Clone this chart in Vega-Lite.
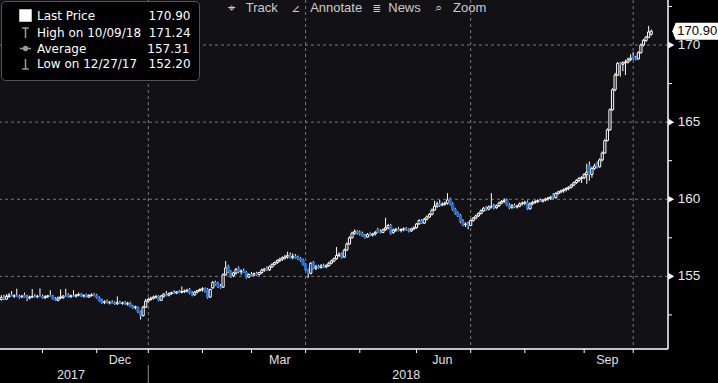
{
"$schema": "https://vega.github.io/schema/vega-lite/v6.json",
"width": 668, "height": 349,
"autosize": {"type": "none"},
"padding": {"left": 0, "top": 0, "right": 50, "bottom": 34},
"background": "#000000",
"view": {"fill": "#111116", "stroke": null},
"title": {"text": "\u2316\u00a0\u00a0\u00a0Track\u00a0\u00a0\u00a0\u00a0\u2220\u00a0\u00a0\u00a0Annotate\u00a0\u00a0\u00a0\u2263\u00a0\u00a0News\u00a0\u00a0\u00a0\u00a0\u2315\u00a0\u00a0\u00a0Zoom", "anchor": "start", "frame": "group", "orient": "top", "offset": -16, "dx": 228, "baseline": "top", "font": "Liberation Sans", "fontSize": 13, "fontWeight": "normal", "color": "#cccccc"},
"datasets": {
"ohlc": [
{"d":"2017-10-10","o":153.50,"h":153.78,"l":153.42,"c":153.62},
{"d":"2017-10-11","o":153.62,"h":153.80,"l":153.45,"c":153.55},
{"d":"2017-10-12","o":153.52,"h":153.85,"l":153.48,"c":153.70},
{"d":"2017-10-13","o":153.70,"h":153.92,"l":153.60,"c":153.78},
{"d":"2017-10-16","o":153.80,"h":154.05,"l":153.70,"c":153.72},
{"d":"2017-10-17","o":153.72,"h":153.85,"l":153.60,"c":153.74},
{"d":"2017-10-18","o":153.74,"h":154.20,"l":153.66,"c":153.70},
{"d":"2017-10-19","o":153.70,"h":153.82,"l":153.55,"c":153.66},
{"d":"2017-10-20","o":153.68,"h":153.80,"l":153.58,"c":153.72},
{"d":"2017-10-23","o":153.78,"h":153.95,"l":153.62,"c":153.64},
{"d":"2017-10-24","o":153.66,"h":153.80,"l":153.40,"c":153.60},
{"d":"2017-10-25","o":153.60,"h":153.75,"l":153.50,"c":153.66},
{"d":"2017-10-26","o":153.66,"h":154.18,"l":153.60,"c":153.70},
{"d":"2017-10-27","o":153.70,"h":153.85,"l":153.62,"c":153.68},
{"d":"2017-10-30","o":153.68,"h":153.80,"l":153.58,"c":153.72},
{"d":"2017-10-31","o":153.72,"h":154.22,"l":153.65,"c":153.70},
{"d":"2017-11-01","o":153.70,"h":153.82,"l":153.55,"c":153.62},
{"d":"2017-11-02","o":153.62,"h":153.78,"l":153.52,"c":153.68},
{"d":"2017-11-03","o":153.68,"h":153.80,"l":153.60,"c":153.74},
{"d":"2017-11-06","o":153.74,"h":154.10,"l":153.66,"c":153.70},
{"d":"2017-11-07","o":153.70,"h":153.80,"l":153.50,"c":153.52},
{"d":"2017-11-08","o":153.52,"h":153.65,"l":153.40,"c":153.45},
{"d":"2017-11-09","o":153.45,"h":153.70,"l":153.38,"c":153.60},
{"d":"2017-11-10","o":153.60,"h":154.15,"l":153.52,"c":153.66},
{"d":"2017-11-13","o":153.62,"h":153.78,"l":153.55,"c":153.72},
{"d":"2017-11-14","o":153.72,"h":154.20,"l":153.66,"c":153.70},
{"d":"2017-11-15","o":153.80,"h":153.90,"l":153.62,"c":153.68},
{"d":"2017-11-16","o":153.68,"h":153.82,"l":153.60,"c":153.74},
{"d":"2017-11-17","o":153.74,"h":154.10,"l":153.66,"c":153.72},
{"d":"2017-11-20","o":153.72,"h":153.86,"l":153.62,"c":153.78},
{"d":"2017-11-21","o":153.78,"h":153.95,"l":153.70,"c":153.82},
{"d":"2017-11-22","o":153.85,"h":153.92,"l":153.66,"c":153.72},
{"d":"2017-11-24","o":153.72,"h":153.85,"l":153.62,"c":153.76},
{"d":"2017-11-27","o":153.80,"h":153.88,"l":153.62,"c":153.66},
{"d":"2017-11-28","o":153.66,"h":153.85,"l":153.60,"c":153.76},
{"d":"2017-11-29","o":153.76,"h":153.90,"l":153.68,"c":153.80},
{"d":"2017-11-30","o":153.80,"h":153.92,"l":153.70,"c":153.76},
{"d":"2017-12-01","o":153.76,"h":153.86,"l":153.55,"c":153.60},
{"d":"2017-12-04","o":153.58,"h":153.70,"l":153.35,"c":153.40},
{"d":"2017-12-05","o":153.40,"h":153.55,"l":153.22,"c":153.30},
{"d":"2017-12-06","o":153.30,"h":153.45,"l":153.20,"c":153.36},
{"d":"2017-12-07","o":153.36,"h":153.50,"l":153.24,"c":153.28},
{"d":"2017-12-08","o":153.28,"h":153.40,"l":153.18,"c":153.32},
{"d":"2017-12-11","o":153.32,"h":153.45,"l":153.22,"c":153.26},
{"d":"2017-12-12","o":153.26,"h":153.38,"l":153.15,"c":153.22},
{"d":"2017-12-13","o":153.22,"h":153.70,"l":153.15,"c":153.30},
{"d":"2017-12-14","o":153.30,"h":153.42,"l":153.20,"c":153.25},
{"d":"2017-12-15","o":153.25,"h":153.36,"l":153.16,"c":153.28},
{"d":"2017-12-18","o":153.28,"h":153.40,"l":153.15,"c":153.20},
{"d":"2017-12-19","o":153.20,"h":153.35,"l":153.10,"c":153.25},
{"d":"2017-12-20","o":153.25,"h":153.35,"l":153.00,"c":153.05},
{"d":"2017-12-21","o":153.05,"h":153.15,"l":152.90,"c":152.98},
{"d":"2017-12-22","o":152.98,"h":153.10,"l":152.85,"c":153.02},
{"d":"2017-12-26","o":153.00,"h":153.05,"l":152.62,"c":152.70},
{"d":"2017-12-27","o":152.70,"h":152.78,"l":152.20,"c":152.45},
{"d":"2017-12-28","o":152.45,"h":153.10,"l":152.40,"c":153.00},
{"d":"2017-12-29","o":153.00,"h":153.55,"l":152.95,"c":153.40},
{"d":"2018-01-02","o":153.40,"h":153.62,"l":153.30,"c":153.50},
{"d":"2018-01-03","o":153.50,"h":153.68,"l":153.42,"c":153.58},
{"d":"2018-01-04","o":153.58,"h":153.75,"l":153.50,"c":153.66},
{"d":"2018-01-05","o":153.66,"h":153.80,"l":153.55,"c":153.70},
{"d":"2018-01-08","o":153.70,"h":153.78,"l":153.38,"c":153.45},
{"d":"2018-01-09","o":153.45,"h":153.80,"l":153.40,"c":153.72},
{"d":"2018-01-10","o":153.72,"h":153.90,"l":153.62,"c":153.85},
{"d":"2018-01-11","o":153.85,"h":154.05,"l":153.70,"c":153.78},
{"d":"2018-01-12","o":153.78,"h":153.95,"l":153.70,"c":153.88},
{"d":"2018-01-16","o":153.88,"h":154.00,"l":153.80,"c":153.95},
{"d":"2018-01-17","o":153.95,"h":154.10,"l":153.85,"c":153.92},
{"d":"2018-01-18","o":153.92,"h":154.05,"l":153.85,"c":154.00},
{"d":"2018-01-19","o":154.00,"h":154.12,"l":153.90,"c":153.96},
{"d":"2018-01-22","o":153.96,"h":154.35,"l":153.90,"c":154.02},
{"d":"2018-01-23","o":154.02,"h":154.15,"l":153.92,"c":154.05},
{"d":"2018-01-24","o":154.05,"h":154.20,"l":153.95,"c":154.10},
{"d":"2018-01-25","o":154.15,"h":154.25,"l":153.85,"c":153.92},
{"d":"2018-01-26","o":153.92,"h":154.05,"l":153.70,"c":153.80},
{"d":"2018-01-29","o":153.80,"h":154.05,"l":153.75,"c":153.98},
{"d":"2018-01-30","o":153.98,"h":154.12,"l":153.90,"c":154.08},
{"d":"2018-01-31","o":154.08,"h":154.22,"l":154.00,"c":154.15},
{"d":"2018-02-01","o":154.15,"h":154.30,"l":154.00,"c":154.20},
{"d":"2018-02-02","o":154.20,"h":154.28,"l":153.95,"c":154.05},
{"d":"2018-02-05","o":154.15,"h":154.25,"l":153.55,"c":153.65},
{"d":"2018-02-06","o":153.65,"h":154.20,"l":153.60,"c":154.15},
{"d":"2018-02-07","o":154.25,"h":154.70,"l":154.20,"c":154.60},
{"d":"2018-02-08","o":154.60,"h":154.72,"l":154.40,"c":154.50},
{"d":"2018-02-09","o":154.55,"h":154.65,"l":154.25,"c":154.35},
{"d":"2018-02-12","o":154.35,"h":154.50,"l":154.20,"c":154.30},
{"d":"2018-02-13","o":154.30,"h":155.20,"l":154.25,"c":155.10},
{"d":"2018-02-14","o":155.10,"h":156.00,"l":155.05,"c":155.55},
{"d":"2018-02-15","o":155.65,"h":155.75,"l":155.20,"c":155.30},
{"d":"2018-02-16","o":155.30,"h":155.40,"l":154.90,"c":155.00},
{"d":"2018-02-20","o":155.05,"h":155.30,"l":154.95,"c":155.22},
{"d":"2018-02-21","o":155.22,"h":155.55,"l":155.10,"c":155.45},
{"d":"2018-02-22","o":155.55,"h":155.65,"l":155.20,"c":155.30},
{"d":"2018-02-23","o":155.30,"h":155.45,"l":155.10,"c":155.35},
{"d":"2018-02-26","o":155.35,"h":155.50,"l":155.20,"c":155.25},
{"d":"2018-02-27","o":155.25,"h":155.35,"l":154.85,"c":154.95},
{"d":"2018-02-28","o":154.95,"h":155.20,"l":154.90,"c":155.12},
{"d":"2018-03-01","o":155.12,"h":155.28,"l":155.02,"c":155.08},
{"d":"2018-03-02","o":155.08,"h":155.25,"l":155.00,"c":155.18},
{"d":"2018-03-05","o":155.18,"h":155.30,"l":155.05,"c":155.12},
{"d":"2018-03-06","o":155.12,"h":155.30,"l":155.05,"c":155.25},
{"d":"2018-03-07","o":155.25,"h":155.50,"l":155.15,"c":155.40},
{"d":"2018-03-08","o":155.40,"h":155.55,"l":155.30,"c":155.48},
{"d":"2018-03-09","o":155.48,"h":155.65,"l":155.35,"c":155.42},
{"d":"2018-03-12","o":155.42,"h":155.70,"l":155.35,"c":155.62},
{"d":"2018-03-13","o":155.62,"h":155.85,"l":155.55,"c":155.78},
{"d":"2018-03-14","o":155.78,"h":155.95,"l":155.70,"c":155.90},
{"d":"2018-03-15","o":155.90,"h":156.10,"l":155.80,"c":156.02},
{"d":"2018-03-16","o":156.02,"h":156.20,"l":155.92,"c":156.12},
{"d":"2018-03-19","o":156.12,"h":156.30,"l":156.00,"c":156.20},
{"d":"2018-03-20","o":156.20,"h":156.40,"l":156.08,"c":156.26},
{"d":"2018-03-21","o":156.26,"h":156.60,"l":156.15,"c":156.35},
{"d":"2018-03-22","o":156.35,"h":156.55,"l":156.15,"c":156.22},
{"d":"2018-03-23","o":156.22,"h":156.50,"l":156.10,"c":156.30},
{"d":"2018-03-26","o":156.30,"h":156.45,"l":156.15,"c":156.20},
{"d":"2018-03-27","o":156.20,"h":156.35,"l":156.05,"c":156.15},
{"d":"2018-03-28","o":156.15,"h":156.25,"l":155.95,"c":156.05},
{"d":"2018-03-29","o":156.05,"h":156.15,"l":155.70,"c":155.75},
{"d":"2018-04-02","o":155.75,"h":155.85,"l":155.35,"c":155.42},
{"d":"2018-04-03","o":155.42,"h":155.50,"l":154.90,"c":155.20},
{"d":"2018-04-04","o":155.20,"h":155.92,"l":155.12,"c":155.85},
{"d":"2018-04-05","o":155.90,"h":156.00,"l":155.45,"c":155.52},
{"d":"2018-04-06","o":155.52,"h":155.75,"l":155.40,"c":155.62},
{"d":"2018-04-09","o":155.62,"h":155.75,"l":155.50,"c":155.58},
{"d":"2018-04-10","o":155.58,"h":155.80,"l":155.50,"c":155.68},
{"d":"2018-04-11","o":155.68,"h":155.82,"l":155.55,"c":155.62},
{"d":"2018-04-12","o":155.62,"h":155.78,"l":155.52,"c":155.70},
{"d":"2018-04-13","o":155.70,"h":155.95,"l":155.62,"c":155.85},
{"d":"2018-04-16","o":155.85,"h":156.08,"l":155.78,"c":156.00},
{"d":"2018-04-17","o":156.00,"h":156.22,"l":155.92,"c":156.15},
{"d":"2018-04-18","o":156.15,"h":156.90,"l":156.08,"c":156.35},
{"d":"2018-04-19","o":156.35,"h":156.55,"l":156.25,"c":156.45},
{"d":"2018-04-20","o":156.45,"h":156.55,"l":156.15,"c":156.25},
{"d":"2018-04-23","o":156.25,"h":156.80,"l":156.20,"c":156.70},
{"d":"2018-04-24","o":156.70,"h":157.20,"l":156.65,"c":157.10},
{"d":"2018-04-25","o":157.10,"h":157.60,"l":157.05,"c":157.50},
{"d":"2018-04-26","o":157.50,"h":157.90,"l":157.45,"c":157.80},
{"d":"2018-04-27","o":157.80,"h":158.05,"l":157.70,"c":157.90},
{"d":"2018-04-30","o":157.90,"h":158.00,"l":157.70,"c":157.82},
{"d":"2018-05-01","o":157.82,"h":157.98,"l":157.65,"c":157.78},
{"d":"2018-05-02","o":157.78,"h":157.90,"l":157.55,"c":157.60},
{"d":"2018-05-03","o":157.60,"h":157.75,"l":157.45,"c":157.55},
{"d":"2018-05-04","o":157.55,"h":157.80,"l":157.50,"c":157.72},
{"d":"2018-05-07","o":157.72,"h":157.85,"l":157.60,"c":157.68},
{"d":"2018-05-08","o":157.68,"h":157.82,"l":157.58,"c":157.75},
{"d":"2018-05-09","o":157.75,"h":157.95,"l":157.65,"c":157.85},
{"d":"2018-05-10","o":158.05,"h":158.15,"l":157.82,"c":157.90},
{"d":"2018-05-11","o":157.90,"h":158.05,"l":157.78,"c":157.85},
{"d":"2018-05-14","o":157.85,"h":158.10,"l":157.80,"c":158.02},
{"d":"2018-05-15","o":158.02,"h":158.80,"l":157.95,"c":158.15},
{"d":"2018-05-16","o":158.15,"h":158.40,"l":158.05,"c":158.30},
{"d":"2018-05-17","o":158.30,"h":158.40,"l":157.70,"c":157.80},
{"d":"2018-05-18","o":157.85,"h":158.10,"l":157.75,"c":158.00},
{"d":"2018-05-21","o":158.00,"h":158.15,"l":157.88,"c":158.05},
{"d":"2018-05-22","o":158.05,"h":158.20,"l":157.92,"c":157.98},
{"d":"2018-05-23","o":157.98,"h":158.12,"l":157.85,"c":158.04},
{"d":"2018-05-24","o":158.04,"h":158.18,"l":157.92,"c":158.08},
{"d":"2018-05-25","o":158.08,"h":158.20,"l":157.95,"c":158.02},
{"d":"2018-05-29","o":158.02,"h":158.12,"l":157.85,"c":157.95},
{"d":"2018-05-30","o":157.95,"h":158.15,"l":157.88,"c":158.08},
{"d":"2018-05-31","o":158.08,"h":158.25,"l":158.00,"c":158.15},
{"d":"2018-06-01","o":158.15,"h":158.45,"l":158.10,"c":158.40},
{"d":"2018-06-04","o":158.40,"h":158.70,"l":158.35,"c":158.62},
{"d":"2018-06-05","o":158.62,"h":158.72,"l":158.40,"c":158.45},
{"d":"2018-06-06","o":158.45,"h":158.80,"l":158.40,"c":158.70},
{"d":"2018-06-07","o":158.70,"h":158.95,"l":158.62,"c":158.85},
{"d":"2018-06-08","o":158.85,"h":159.10,"l":158.78,"c":159.02},
{"d":"2018-06-11","o":159.02,"h":159.40,"l":158.95,"c":159.30},
{"d":"2018-06-12","o":159.30,"h":159.90,"l":159.25,"c":159.55},
{"d":"2018-06-13","o":159.55,"h":159.85,"l":159.45,"c":159.70},
{"d":"2018-06-14","o":159.70,"h":159.95,"l":159.50,"c":159.62},
{"d":"2018-06-15","o":159.62,"h":159.80,"l":159.55,"c":159.68},
{"d":"2018-06-18","o":159.68,"h":159.85,"l":159.58,"c":159.75},
{"d":"2018-06-19","o":159.75,"h":160.40,"l":159.65,"c":159.95},
{"d":"2018-06-20","o":160.00,"h":160.10,"l":159.60,"c":159.70},
{"d":"2018-06-21","o":159.70,"h":159.80,"l":159.25,"c":159.35},
{"d":"2018-06-22","o":159.35,"h":159.45,"l":159.00,"c":159.10},
{"d":"2018-06-25","o":159.10,"h":159.20,"l":158.85,"c":158.95},
{"d":"2018-06-26","o":158.95,"h":159.05,"l":158.45,"c":158.55},
{"d":"2018-06-27","o":158.55,"h":158.70,"l":158.25,"c":158.35},
{"d":"2018-06-28","o":158.35,"h":158.50,"l":158.20,"c":158.40},
{"d":"2018-06-29","o":158.40,"h":158.55,"l":158.05,"c":158.30},
{"d":"2018-07-02","o":158.30,"h":158.70,"l":158.25,"c":158.62},
{"d":"2018-07-03","o":158.62,"h":158.85,"l":158.55,"c":158.78},
{"d":"2018-07-05","o":158.78,"h":159.00,"l":158.70,"c":158.92},
{"d":"2018-07-06","o":158.92,"h":159.15,"l":158.85,"c":159.08},
{"d":"2018-07-09","o":159.08,"h":159.35,"l":159.00,"c":159.25},
{"d":"2018-07-10","o":159.25,"h":159.50,"l":159.18,"c":159.42},
{"d":"2018-07-11","o":159.42,"h":159.55,"l":159.25,"c":159.35},
{"d":"2018-07-12","o":159.35,"h":159.60,"l":159.28,"c":159.50},
{"d":"2018-07-13","o":159.50,"h":160.40,"l":159.40,"c":159.55},
{"d":"2018-07-16","o":159.55,"h":159.70,"l":159.35,"c":159.45},
{"d":"2018-07-17","o":159.45,"h":159.65,"l":159.38,"c":159.58},
{"d":"2018-07-18","o":159.58,"h":159.85,"l":159.50,"c":159.75},
{"d":"2018-07-19","o":159.75,"h":159.95,"l":159.68,"c":159.85},
{"d":"2018-07-20","o":159.85,"h":160.05,"l":159.75,"c":159.92},
{"d":"2018-07-23","o":159.92,"h":160.05,"l":159.55,"c":159.62},
{"d":"2018-07-24","o":159.62,"h":159.75,"l":159.35,"c":159.45},
{"d":"2018-07-25","o":159.45,"h":159.70,"l":159.38,"c":159.58},
{"d":"2018-07-26","o":159.58,"h":159.72,"l":159.42,"c":159.50},
{"d":"2018-07-27","o":159.50,"h":159.65,"l":159.40,"c":159.55},
{"d":"2018-07-30","o":159.55,"h":159.80,"l":159.48,"c":159.70},
{"d":"2018-07-31","o":159.70,"h":159.85,"l":159.60,"c":159.75},
{"d":"2018-08-01","o":159.75,"h":159.90,"l":159.62,"c":159.80},
{"d":"2018-08-02","o":159.80,"h":159.92,"l":159.30,"c":159.38},
{"d":"2018-08-03","o":159.38,"h":159.80,"l":159.32,"c":159.70},
{"d":"2018-08-06","o":159.70,"h":159.90,"l":159.62,"c":159.80},
{"d":"2018-08-07","o":159.80,"h":159.95,"l":159.70,"c":159.85},
{"d":"2018-08-08","o":159.85,"h":160.00,"l":159.75,"c":159.92},
{"d":"2018-08-09","o":159.92,"h":160.05,"l":159.82,"c":159.88},
{"d":"2018-08-10","o":159.88,"h":160.02,"l":159.78,"c":159.95},
{"d":"2018-08-13","o":159.95,"h":160.10,"l":159.85,"c":160.02},
{"d":"2018-08-14","o":160.02,"h":160.15,"l":159.90,"c":160.08},
{"d":"2018-08-15","o":160.08,"h":160.20,"l":159.95,"c":160.15},
{"d":"2018-08-16","o":160.30,"h":160.40,"l":160.00,"c":160.10},
{"d":"2018-08-17","o":160.10,"h":160.45,"l":160.05,"c":160.38},
{"d":"2018-08-20","o":160.38,"h":160.55,"l":160.30,"c":160.48},
{"d":"2018-08-21","o":160.48,"h":160.62,"l":160.38,"c":160.55},
{"d":"2018-08-22","o":160.55,"h":160.70,"l":160.42,"c":160.62},
{"d":"2018-08-23","o":160.62,"h":160.78,"l":160.50,"c":160.70},
{"d":"2018-08-24","o":160.70,"h":160.85,"l":160.58,"c":160.78},
{"d":"2018-08-27","o":160.78,"h":161.00,"l":160.70,"c":160.92},
{"d":"2018-08-28","o":160.92,"h":161.15,"l":160.85,"c":161.08},
{"d":"2018-08-29","o":161.08,"h":161.30,"l":161.00,"c":161.22},
{"d":"2018-08-30","o":161.22,"h":161.45,"l":161.10,"c":161.35},
{"d":"2018-08-31","o":161.35,"h":161.50,"l":161.05,"c":161.40},
{"d":"2018-09-04","o":161.40,"h":161.70,"l":161.30,"c":161.60},
{"d":"2018-09-05","o":161.60,"h":162.30,"l":161.00,"c":161.75},
{"d":"2018-09-06","o":162.20,"h":162.45,"l":161.20,"c":161.60},
{"d":"2018-09-07","o":161.60,"h":162.10,"l":161.40,"c":162.00},
{"d":"2018-09-10","o":162.00,"h":162.30,"l":161.90,"c":162.15},
{"d":"2018-09-11","o":162.35,"h":162.45,"l":162.00,"c":162.10},
{"d":"2018-09-12","o":162.10,"h":162.65,"l":162.05,"c":162.55},
{"d":"2018-09-13","o":162.55,"h":163.10,"l":162.45,"c":163.00},
{"d":"2018-09-14","o":163.00,"h":163.90,"l":162.95,"c":163.80},
{"d":"2018-09-17","o":163.80,"h":164.60,"l":163.75,"c":164.50},
{"d":"2018-09-18","o":164.50,"h":165.90,"l":164.45,"c":165.80},
{"d":"2018-09-19","o":165.80,"h":167.20,"l":165.75,"c":167.10},
{"d":"2018-09-20","o":167.10,"h":168.20,"l":167.00,"c":168.05},
{"d":"2018-09-21","o":168.05,"h":168.90,"l":168.00,"c":168.80},
{"d":"2018-09-24","o":168.80,"h":168.90,"l":167.95,"c":168.75},
{"d":"2018-09-25","o":168.75,"h":168.95,"l":168.30,"c":168.85},
{"d":"2018-09-26","o":168.85,"h":169.05,"l":168.05,"c":168.90},
{"d":"2018-09-27","o":168.90,"h":169.20,"l":168.80,"c":169.05},
{"d":"2018-09-28","o":169.05,"h":169.40,"l":168.95,"c":169.15},
{"d":"2018-10-01","o":169.30,"h":169.55,"l":169.05,"c":169.15},
{"d":"2018-10-02","o":169.15,"h":169.30,"l":169.00,"c":169.10},
{"d":"2018-10-03","o":169.10,"h":169.60,"l":169.05,"c":169.50},
{"d":"2018-10-04","o":169.50,"h":170.10,"l":169.45,"c":170.00},
{"d":"2018-10-05","o":170.00,"h":170.40,"l":169.90,"c":170.30},
{"d":"2018-10-08","o":170.30,"h":170.60,"l":170.20,"c":170.50},
{"d":"2018-10-09","o":170.50,"h":171.24,"l":170.45,"c":170.85},
{"d":"2018-10-10","o":170.70,"h":171.00,"l":170.60,"c":170.90}
],
"future": [{"d":"2018-10-11"},{"d":"2018-10-12"},{"d":"2018-10-15"},{"d":"2018-10-16"},{"d":"2018-10-17"},{"d":"2018-10-18"}],
"vgrid": [{"d":"2018-01-02"},{"d":"2018-04-02"},{"d":"2018-07-02"},{"d":"2018-10-01"}],
"hgrid": [{"v":155},{"v":160},{"v":165},{"v":170}],
"yminor": [{"v":152.5},{"v":157.5},{"v":162.5},{"v":167.5},{"v":172.5}],
"mticks": [{"d":"2017-11-01"},{"d":"2017-12-01"},{"d":"2018-01-02"},{"d":"2018-02-01"},{"d":"2018-03-01"},{"d":"2018-04-02"},{"d":"2018-05-01"},{"d":"2018-06-01"},{"d":"2018-07-02"},{"d":"2018-08-01"},{"d":"2018-09-04"},{"d":"2018-10-01"}],
"months": [{"d":"2017-12-14","t":"Dec"},{"d":"2018-03-16","t":"Mar"},{"d":"2018-06-15","t":"Jun"},{"d":"2018-09-17","t":"Sep"}],
"years": [{"d":"2017-11-16","t":"2017"},{"d":"2018-05-25","t":"2018"}],
"yearsep": [{"d":"2018-01-02"}],
"legend": [{"s":"Last Price"},{"s":"High on 10/09/18"},{"s":"Average"},{"s":"Low on 12/27/17"}]
},
"layer": [
{
"data": {"name": "vgrid"},
"mark": {"type": "rule", "color": "#7a7a7a", "strokeDash": [3, 3], "strokeWidth": 1},
"encoding": {
"x": {"field": "d", "type": "ordinal", "scale": {"type": "band", "paddingInner": 0, "paddingOuter": 0}, "axis": null}
}
},
{
"data": {"name": "hgrid"},
"mark": {"type": "rule", "color": "#7a7a7a", "strokeDash": [3, 3], "strokeWidth": 1},
"encoding": {
"y": {"field": "v", "type": "quantitative", "scale": {"domain": [150.29, 172.92], "nice": false, "zero": false}, "axis": null}
}
},
{
"data": {"name": "ohlc"},
"mark": {"type": "rule", "color": "#ffffff", "strokeWidth": 1},
"encoding": {
"x": {"field": "d", "type": "ordinal", "axis": null},
"y": {"field": "l", "type": "quantitative", "scale": {"domain": [150.29, 172.92], "nice": false, "zero": false}, "axis": null},
"y2": {"field": "h"}
}
},
{
"data": {"name": "ohlc"},
"mark": {"type": "bar", "width": 2.2, "strokeWidth": 1},
"encoding": {
"x": {"field": "d", "type": "ordinal", "axis": null},
"y": {"field": "o", "type": "quantitative", "scale": {"domain": [150.29, 172.92], "nice": false, "zero": false}, "axis": null},
"y2": {"field": "c"},
"fill": {"condition": {"test": "datum.c < datum.o", "value": "#2272d6"}, "value": "#111116"},
"stroke": {"condition": {"test": "datum.c < datum.o", "value": "#2272d6"}, "value": "#ffffff"}
}
},
{
"data": {"name": "future"},
"mark": {"type": "point", "opacity": 0},
"encoding": {
"x": {"field": "d", "type": "ordinal", "axis": null}
}
},
{
"data": {"name": "yearsep"},
"mark": {"type": "rule", "color": "#ffffff", "strokeWidth": 1.5},
"encoding": {
"y": {"datum": 150.29, "type": "quantitative", "scale": {"domain": [150.29, 172.92], "nice": false, "zero": false}, "axis": null}
}
},
{
"data": {"name": "yearsep"},
"mark": {"type": "rule", "color": "#ffffff", "strokeWidth": 1.5, "xOffset": 1.3},
"encoding": {
"x": {"datum": "2018-10-18", "type": "ordinal", "axis": null}
}
},
{
"data": {"name": "mticks"},
"mark": {"type": "rule", "color": "#ffffff", "strokeWidth": 1, "y2Offset": 4},
"encoding": {
"x": {"field": "d", "type": "ordinal", "axis": null},
"y": {"datum": 150.29, "type": "quantitative", "scale": {"domain": [150.29, 172.92], "nice": false, "zero": false}, "axis": null},
"y2": {"datum": 150.29}
}
},
{
"data": {"name": "yminor"},
"mark": {"type": "rule", "color": "#ffffff", "strokeWidth": 1, "xOffset": 1.3, "x2Offset": 5.3},
"encoding": {
"x": {"datum": "2018-10-18", "type": "ordinal", "axis": null},
"x2": {"datum": "2018-10-18"},
"y": {"field": "v", "type": "quantitative", "scale": {"domain": [150.29, 172.92], "nice": false, "zero": false}, "axis": null}
}
},
{
"data": {"name": "hgrid"},
"mark": {"type": "point", "shape": "triangle-right", "size": 45, "filled": true, "color": "#ffffff", "opacity": 1, "xOffset": 4.6},
"encoding": {
"x": {"datum": "2018-10-18", "type": "ordinal", "axis": null},
"y": {"field": "v", "type": "quantitative", "scale": {"domain": [150.29, 172.92], "nice": false, "zero": false}, "axis": null}
}
},
{
"data": {"name": "hgrid"},
"mark": {"type": "text", "color": "#e8e8e8", "font": "Liberation Sans", "fontSize": 13.5, "baseline": "middle", "align": "left", "dx": 11},
"encoding": {
"x": {"datum": "2018-10-18", "type": "ordinal", "axis": null},
"y": {"field": "v", "type": "quantitative", "scale": {"domain": [150.29, 172.92], "nice": false, "zero": false}, "axis": null},
"text": {"field": "v", "type": "quantitative", "format": "d"}
}
},
{
"data": {"name": "months"},
"mark": {"type": "text", "color": "#e0e0e0", "font": "Liberation Sans", "fontSize": 12.5, "baseline": "middle", "align": "center", "dy": 11},
"encoding": {
"x": {"field": "d", "type": "ordinal", "axis": null},
"y": {"datum": 150.29, "type": "quantitative", "scale": {"domain": [150.29, 172.92], "nice": false, "zero": false}, "axis": null},
"text": {"field": "t", "type": "nominal"}
}
},
{
"data": {"name": "years"},
"mark": {"type": "text", "color": "#e0e0e0", "font": "Liberation Sans", "fontSize": 12.5, "baseline": "middle", "align": "center", "dy": 26},
"encoding": {
"x": {"field": "d", "type": "ordinal", "axis": null},
"y": {"datum": 150.29, "type": "quantitative", "scale": {"domain": [150.29, 172.92], "nice": false, "zero": false}, "axis": null},
"text": {"field": "t", "type": "nominal"}
}
},
{
"data": {"name": "yearsep"},
"mark": {"type": "rule", "color": "#8c8c8c", "strokeWidth": 1, "yOffset": 16, "y2Offset": 34},
"encoding": {
"x": {"field": "d", "type": "ordinal", "axis": null},
"y": {"datum": 150.29, "type": "quantitative", "scale": {"domain": [150.29, 172.92], "nice": false, "zero": false}, "axis": null},
"y2": {"datum": 150.29}
}
},
{
"data": {"name": "ohlc"},
"transform": [{"filter": "datum.d === '2018-10-10'"}],
"mark": {"type": "point", "shape": "M-1,0L-0.85,-0.37L1,-0.37L1,0.37L-0.85,0.37Z", "size": 2116, "filled": true, "color": "#ffffff", "opacity": 1, "xOffset": 44},
"encoding": {
"x": {"field": "d", "type": "ordinal", "axis": null},
"y": {"field": "c", "type": "quantitative", "scale": {"domain": [150.29, 172.92], "nice": false, "zero": false}, "axis": null}
}
},
{
"data": {"name": "ohlc"},
"transform": [{"filter": "datum.d === '2018-10-10'"}],
"mark": {"type": "text", "color": "#000000", "font": "Liberation Sans", "fontSize": 13, "xOffset": 46, "align": "center", "baseline": "middle"},
"encoding": {
"x": {"field": "d", "type": "ordinal", "axis": null},
"y": {"field": "c", "type": "quantitative", "scale": {"domain": [150.29, 172.92], "nice": false, "zero": false}, "axis": null},
"text": {"field": "c", "type": "quantitative", "format": ".2f"}
}
},
{
"data": {"name": "legend"},
"mark": {"type": "point", "opacity": 0},
"encoding": {
"shape": {"field": "s", "type": "nominal", "scale": {"domain": ["Last Price","High on 10/09/18","Average","Low on 12/27/17"], "range": ["square","M-0.6,-0.9L0.6,-0.9M0,-0.9L0,0.9","M-1,0L-0.35,0M0.35,0L1,0M0.35,0A0.35,0.35,0,1,1,-0.35,0A0.35,0.35,0,1,1,0.35,0","M0,-0.9L0,0.9M-0.6,0.9L0.6,0.9"]},
 "legend": {"labelExpr": "datum.label === 'Last Price' ? 'Last Price\u00a0\u00a0\u00a0\u00a0\u00a0\u00a0\u00a0\u00a0\u00a0\u00a0\u00a0\u00a0\u00a0\u00a0170.90' : datum.label === 'High on 10/09/18' ? 'High on 10/09/18\u00a0\u00a0171.24' : datum.label === 'Average' ? 'Average\u00a0\u00a0\u00a0\u00a0\u00a0\u00a0\u00a0\u00a0\u00a0\u00a0\u00a0\u00a0\u00a0\u00a0\u00a0\u00a0157.31' : 'Low on 12/27/17\u00a0\u00a0\u00a0152.20'"}},
"fill": {"field": "s", "type": "nominal", "scale": {"domain": ["Last Price","High on 10/09/18","Average","Low on 12/27/17"], "range": ["#ffffff","transparent","#999999","transparent"]},
 "legend": {"labelExpr": "datum.label === 'Last Price' ? 'Last Price\u00a0\u00a0\u00a0\u00a0\u00a0\u00a0\u00a0\u00a0\u00a0\u00a0\u00a0\u00a0\u00a0\u00a0170.90' : datum.label === 'High on 10/09/18' ? 'High on 10/09/18\u00a0\u00a0171.24' : datum.label === 'Average' ? 'Average\u00a0\u00a0\u00a0\u00a0\u00a0\u00a0\u00a0\u00a0\u00a0\u00a0\u00a0\u00a0\u00a0\u00a0\u00a0\u00a0157.31' : 'Low on 12/27/17\u00a0\u00a0\u00a0152.20'"}},
"stroke": {"field": "s", "type": "nominal", "scale": {"domain": ["Last Price","High on 10/09/18","Average","Low on 12/27/17"], "range": ["#ffffff","#999999","#999999","#999999"]},
 "legend": {"labelExpr": "datum.label === 'Last Price' ? 'Last Price\u00a0\u00a0\u00a0\u00a0\u00a0\u00a0\u00a0\u00a0\u00a0\u00a0\u00a0\u00a0\u00a0\u00a0170.90' : datum.label === 'High on 10/09/18' ? 'High on 10/09/18\u00a0\u00a0171.24' : datum.label === 'Average' ? 'Average\u00a0\u00a0\u00a0\u00a0\u00a0\u00a0\u00a0\u00a0\u00a0\u00a0\u00a0\u00a0\u00a0\u00a0\u00a0\u00a0157.31' : 'Low on 12/27/17\u00a0\u00a0\u00a0152.20'"}}
}
}
],
"config": {
"legend": {"orient": "top-left", "offset": 1, "title": null, "fillColor": "#000000", "strokeColor": "#555555", "cornerRadius": 4, "padding": 8,
 "labelFont": "DejaVu Sans", "labelFontSize": 12, "labelColor": "#ffffff", "labelLimit": 400, "rowPadding": 0.5,
 "symbolSize": 121, "symbolStrokeWidth": 1.5, "symbolOffset": 10, "labelOffset": 5, "symbolOpacity": 1}
}
}
